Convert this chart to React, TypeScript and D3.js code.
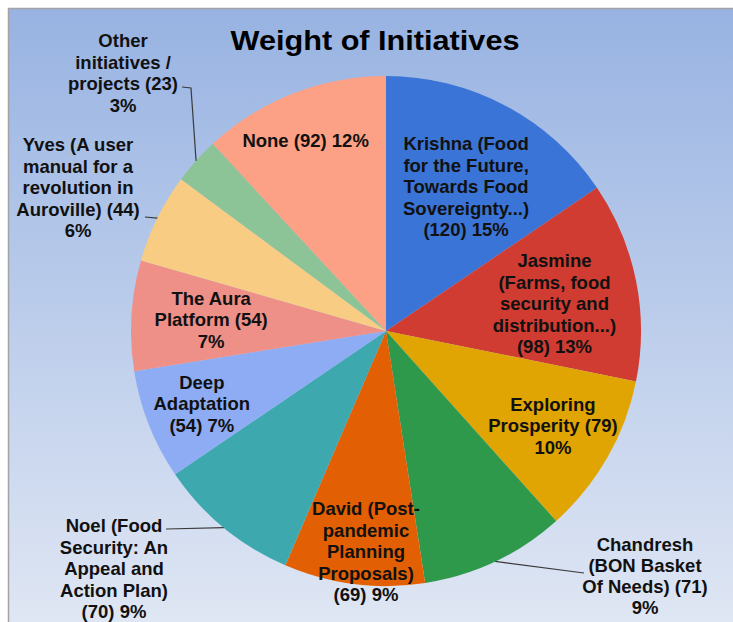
import * as d3 from "d3";

// slice data, clockwise from 12 o'clock
const names = [
  "Krishna",
  "Jasmine",
  "Exploring Prosperity",
  "Chandresh",
  "David",
  "Noel",
  "Deep Adaptation",
  "The Aura Platform",
  "Yves",
  "Other",
  "None",
];
const counts = [120, 98, 79, 71, 69, 70, 54, 54, 44, 23, 92];
const percents = ["15%", "13%", "10%", "9%", "9%", "9%", "7%", "7%", "6%", "3%", "12%"];
const labelLines = [
  ["Krishna (Food", "for the Future,", "Towards Food", "Sovereignty...)", "(120) 15%"],
  ["Jasmine", "(Farms, food", "security and", "distribution...)", "(98) 13%"],
  ["Exploring", "Prosperity (79)", "10%"],
  ["Chandresh", "(BON Basket", "Of Needs) (71)", "9%"],
  ["David (Post-", "pandemic", "Planning", "Proposals)", "(69) 9%"],
  ["Noel (Food", "Security: An", "Appeal and", "Action Plan)", "(70) 9%"],
  ["Deep", "Adaptation", "(54) 7%"],
  ["The Aura", "Platform (54)", "7%"],
  ["Yves (A user", "manual for a", "revolution in", "Auroville) (44)", "6%"],
  ["Other", "initiatives /", "projects (23)", "3%"],
  ["None (92) 12%"],
];
const colors = [
  "#3a74d6", "#d03c31", "#e0a502", "#2f994b", "#e35f03", "#3da8ad",
  "#8eacf3", "#ee8f88", "#f9cc83", "#8dc497", "#fca185",
];

const W = 733;
const H = 622;
const cx = 386;
const cy = 331;
const R = 255;
const fontSize = 18.5;
const lineH = 21.5;

// inside labels: radius fraction of R and small nudge; null => outside label
const inside: ([number, number, number] | null)[] = [
  [0.646, 3, 2],
  [0.67, 1, 7],
  [0.754, 0, 0],
  null,
  [0.875, 8, 0],
  null,
  [0.777, 0, 0],
  [0.687, 0, 0],
  null,
  null,
  [0.81, -5, 2],
];
// outside labels: block centre x, first baseline, leader end, optional elbow
const outside: Record<number, { x: number; y: number; end: [number, number]; elbow?: [number, number] }> = {
  3: { x: 645, y: 551, end: [584, 573] },
  5: { x: 114, y: 532, end: [166, 529] },
  8: { x: 78, y: 151, end: [145, 217] },
  9: { x: 123, y: 47, end: [182, 87], elbow: [191, 88] },
};

export default function App() {
  const pie = d3.pie<number>().sort(null).value((d) => d);
  const arcs = pie(counts);
  const arc = d3.arc<d3.PieArcDatum<number>>().innerRadius(0).outerRadius(R);

  const midAngle = (a: d3.PieArcDatum<number>) => (a.startAngle + a.endAngle) / 2;

  return (
    <svg
      width={W}
      height={H}
      style={{ position: "absolute", left: 0, top: 0, display: "block" }}
      fontFamily="'Liberation Sans', Arial, sans-serif"
    >
      <defs>
        <linearGradient id="bg" x1="0" y1="0" x2="0" y2="1">
          <stop offset="0" stopColor="#98b3e2" />
          <stop offset="1" stopColor="#e0e7f4" />
        </linearGradient>
      </defs>
      <rect x={0} y={0} width={W} height={H} fill="#fff" />
      <rect x={8.5} y={8.5} width={W} height={H} fill="url(#bg)" stroke="#a3a3a3" strokeWidth={1.5} />

      <text
        x={375}
        y={50}
        textAnchor="middle"
        fontSize={28}
        fontWeight="bold"
        textLength={289}
        lengthAdjust="spacingAndGlyphs"
        fill="#000"
      >
        Weight of Initiatives
      </text>

      <g transform={`translate(${cx},${cy})`}>
        {arcs.map((a, i) => (
          <path key={names[i]} d={arc(a) ?? ""} fill={colors[i]} />
        ))}
      </g>

      {arcs.map((a, i) => {
        const lines = labelLines[i];
        const ins = inside[i];
        if (ins) {
          const m = midAngle(a);
          const r = R * ins[0];
          const lx = cx + r * Math.sin(m) + ins[1];
          const ly = cy - r * Math.cos(m) + ins[2];
          const y0 = ly - ((lines.length - 1) * lineH) / 2 + 6;
          return (
            <text key={names[i]} textAnchor="middle" fontSize={fontSize} fontWeight="bold" fill="#111">
              {lines.map((t, j) => (
                <tspan key={j} x={lx} y={y0 + j * lineH}>
                  {t}
                </tspan>
              ))}
            </text>
          );
        }
        const o = outside[i];
        const m = midAngle(a);
        const ex = cx + R * Math.sin(m);
        const ey = cy - R * Math.cos(m);
        const pts: [number, number][] = [[ex, ey]];
        if (o.elbow) pts.push(o.elbow);
        pts.push(o.end);
        const line = d3.line()(pts) ?? "";
        return (
          <g key={names[i]}>
            <path d={line} fill="none" stroke="#3a3a3a" strokeWidth={1.2} />
            <text textAnchor="middle" fontSize={fontSize} fontWeight="bold" fill="#111">
              {lines.map((t, j) => (
                <tspan key={j} x={o.x} y={o.y + j * lineH * (i === 3 ? 0.98 : 1)}>
                  {t}
                </tspan>
              ))}
            </text>
          </g>
        );
      })}
    </svg>
  );
}
